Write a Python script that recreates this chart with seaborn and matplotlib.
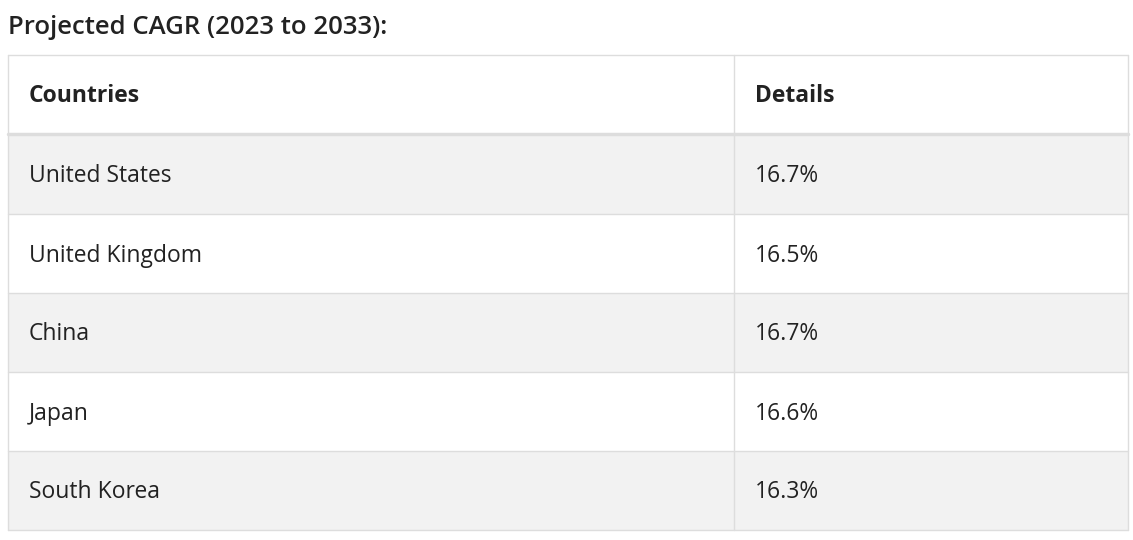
import matplotlib
matplotlib.use("Agg")
from matplotlib import pyplot as plt
from matplotlib.patches import Rectangle
import seaborn as sns

title = "Projected CAGR (2023 to 2033):"
headers = ["Countries", "Details"]
countries = ["United States", "United Kingdom", "China", "Japan", "South Korea"]
cagr = ["16.7%", "16.5%", "16.7%", "16.6%", "16.3%"]

sns.set_theme(style="white", font="Open Sans")

W, H = 1133, 540
fig = plt.figure(figsize=(W / 100, H / 100), dpi=100)
ax = fig.add_axes([0, 0, 1, 1])
ax.set_xlim(0, W)
ax.set_ylim(H, 0)
ax.axis("off")

border = "#dddddd"
left, right, col_x = 8, 1128, 734
top, head_bot = 55, 133
row_h = 79
fs = 16.5

ax.text(8, 27, title, fontsize=18.5, fontweight="semibold", color="#222222",
        va="center", ha="left")

# header
ax.add_patch(Rectangle((left, top), right - left, head_bot - top,
                       facecolor="white", edgecolor="none"))
for i, h in enumerate(headers):
    x = 29 if i == 0 else 755
    ax.text(x, (top + head_bot) / 2 + 2, h, fontsize=fs, fontweight="bold",
            color="#222222", va="center", ha="left")

y0 = head_bot + 2
for i, (c, v) in enumerate(zip(countries, cagr)):
    y = y0 + i * row_h
    fc = "#f2f2f2" if i % 2 == 0 else "white"
    ax.add_patch(Rectangle((left, y), right - left, row_h,
                           facecolor=fc, edgecolor="none"))
    ax.text(29, y + row_h / 2 + 2, c, fontsize=fs, color="#222222",
            va="center", ha="left")
    ax.text(755, y + row_h / 2 + 2, v, fontsize=fs, color="#222222",
            va="center", ha="left")
    ax.plot([left, right], [y + row_h, y + row_h], color=border, lw=1)

bottom = y0 + len(countries) * row_h
ax.plot([left, right], [top, top], color=border, lw=1)
ax.plot([left, right], [head_bot + 1, head_bot + 1], color=border, lw=2.5)
ax.plot([left, left], [top, bottom], color=border, lw=1)
ax.plot([right, right], [top, bottom], color=border, lw=1)
ax.plot([col_x, col_x], [top, bottom], color=border, lw=1)

fig.savefig("out.png", dpi=100, facecolor="white")
